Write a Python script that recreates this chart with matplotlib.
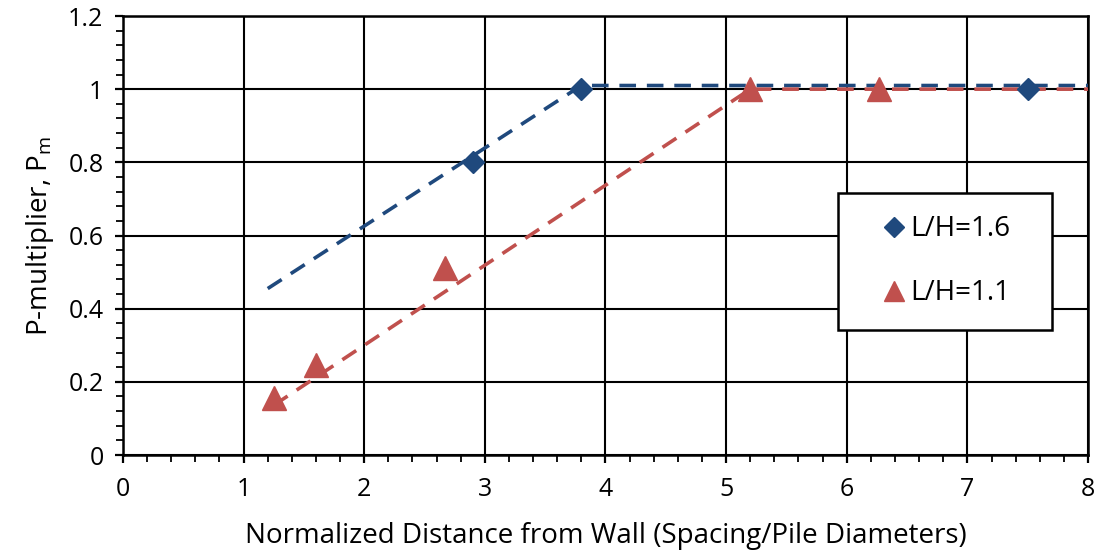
import matplotlib
matplotlib.use('Agg')
import matplotlib.pyplot as plt
from matplotlib.ticker import MultipleLocator

plt.rcParams['font.family'] = ['Open Sans', 'DejaVu Sans']
plt.rcParams['mathtext.fontset'] = 'custom'
plt.rcParams['mathtext.rm'] = 'Open Sans'

# measured points
lh16_x = [2.9, 3.8, 7.5]
lh16_y = [0.80, 1.00, 1.00]
lh11_x = [1.25, 1.6, 2.67, 5.2, 6.27]
lh11_y = [0.155, 0.245, 0.51, 1.00, 1.00]

# dashed trend lines
fit16_x = [1.2, 3.8, 8.0]
fit16_y = [0.455, 1.01, 1.01]
fit11_x = [1.25, 5.2, 8.0]
fit11_y = [0.136, 1.0, 1.0]

blue = '#1F497D'
red = '#C0504D'

fig = plt.figure(figsize=(10.97, 5.52), dpi=100)
ax = fig.add_axes([0.1121, 0.1757, 0.8797, 0.7953])

ax.plot(fit16_x, fit16_y, color=blue, lw=2.6, dashes=(4.6, 3.0), zorder=3)
ax.plot(fit11_x, fit11_y, color=red, lw=2.6, dashes=(4.6, 3.0), zorder=3)
ax.plot(lh16_x, lh16_y, 'D', color=blue, ms=11.5, ls='none', label='L/H=1.6', zorder=4)
ax.plot(lh11_x, lh11_y, '^', color=red, ms=17, ls='none', label='L/H=1.1', zorder=4)

ax.set_xlim(0, 8)
ax.set_ylim(0, 1.2)
ax.xaxis.set_major_locator(MultipleLocator(1))
ax.xaxis.set_minor_locator(MultipleLocator(0.2))
ax.yaxis.set_major_locator(MultipleLocator(0.2))
ax.yaxis.set_minor_locator(MultipleLocator(0.04))
ax.set_yticks([0, 0.2, 0.4, 0.6, 0.8, 1.0, 1.2])
ax.set_yticklabels(['0', '0.2', '0.4', '0.6', '0.8', '1', '1.2'])

ax.grid(which='major', color='black', lw=1.5)
ax.set_axisbelow(True)
for s in ax.spines.values():
    s.set_linewidth(1.8)

ax.tick_params(which='major', direction='out', length=6, width=1.6, labelsize=18, pad=10)
ax.tick_params(which='minor', direction='out', length=5, width=1.3)
ax.tick_params(axis='y', which='major', pad=8)

ax.set_xlabel('Normalized Distance from Wall (Spacing/Pile Diameters)', fontsize=20, labelpad=14)
ax.set_ylabel('P-multiplier, P$_\\mathrm{m}$', fontsize=20, labelpad=9)

leg = ax.legend(loc='upper left', bbox_to_anchor=(0.741, 0.2916, 0.2218, 0.3052),
                mode='expand', frameon=True, fancybox=False, fontsize=20, framealpha=1,
                labelspacing=1.3, borderpad=0.8, handlelength=2.4,
                handletextpad=-0.6, borderaxespad=0, markerscale=0.85)
leg.get_frame().set_edgecolor('black')
leg.get_frame().set_linewidth(1.8)

fig.savefig('out.png', dpi=100)
